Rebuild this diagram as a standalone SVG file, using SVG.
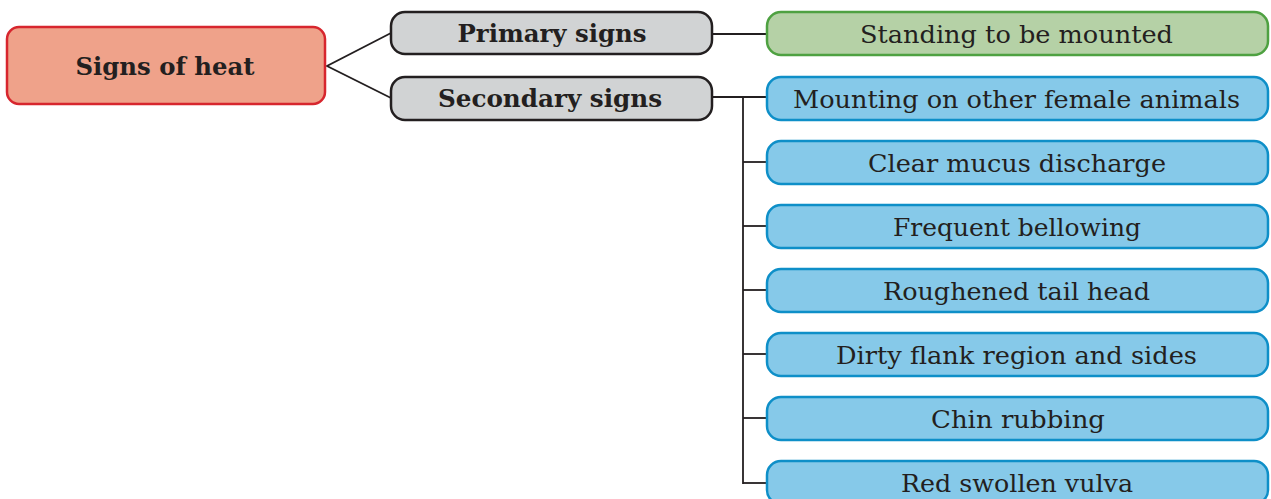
<svg xmlns="http://www.w3.org/2000/svg" width="1271" height="499" viewBox="0 0 1271 499">
<style>
.root{fill:#EFA28A;stroke:#D7262E;stroke-width:2.5}
.cat{fill:#D1D3D4;stroke:#231F20;stroke-width:2.5}
.green{fill:#B5D1A6;stroke:#4EA141;stroke-width:2.5}
.blue{fill:#86C9E9;stroke:#0E8FC8;stroke-width:2.5}
.b{font-family:"DejaVu Serif","Liberation Serif",serif;font-weight:bold;font-size:24px;fill:#231F20;text-anchor:middle}
.t{font-family:"DejaVu Serif","Liberation Serif",serif;font-size:25px;fill:#231F20;text-anchor:middle}
.c{fill:none;stroke:#231F20;stroke-width:1.8}
</style>
<rect width="1271" height="499" fill="#ffffff"/>
<g id="connectors">
<polyline class="c" points="391,33 327,66 391,98"/>
<line class="c" x1="712" y1="34" x2="767" y2="34"/>
<line class="c" x1="712" y1="97" x2="767" y2="97"/>
<line class="c" x1="743" y1="97" x2="743" y2="484"/>
<line class="c" x1="743" y1="162" x2="767" y2="162"/>
<line class="c" x1="743" y1="226" x2="767" y2="226"/>
<line class="c" x1="743" y1="290" x2="767" y2="290"/>
<line class="c" x1="743" y1="354" x2="767" y2="354"/>
<line class="c" x1="743" y1="418" x2="767" y2="418"/>
<line class="c" x1="743" y1="483" x2="767" y2="483"/>
</g>
<g id="signs-of-heat">
<rect class="root" x="7" y="27" width="318" height="77" rx="12"/>
<text class="b" x="165" y="75" textLength="179" lengthAdjust="spacingAndGlyphs">Signs of heat</text>
</g>
<g id="primary-signs">
<rect class="cat" x="391" y="12" width="321" height="42" rx="14"/>
<text class="b" x="552" y="42" textLength="189" lengthAdjust="spacingAndGlyphs">Primary signs</text>
</g>
<g id="secondary-signs">
<rect class="cat" x="391" y="77" width="321" height="43" rx="14"/>
<text class="b" x="550" y="107" textLength="224" lengthAdjust="spacingAndGlyphs">Secondary signs</text>
</g>
<g id="standing">
<rect class="green" x="767" y="12" width="501" height="43" rx="14"/>
<text class="t" x="1016.5" y="43" textLength="313" lengthAdjust="spacingAndGlyphs">Standing to be mounted</text>
</g>
<g id="mounting">
<rect class="blue" x="767" y="77" width="501" height="43" rx="14"/>
<text class="t" x="1016.5" y="108" textLength="447" lengthAdjust="spacingAndGlyphs">Mounting on other female animals</text>
</g>
<g id="mucus">
<rect class="blue" x="767" y="141" width="501" height="43" rx="14"/>
<text class="t" x="1017" y="172" textLength="298" lengthAdjust="spacingAndGlyphs">Clear mucus discharge</text>
</g>
<g id="bellowing">
<rect class="blue" x="767" y="205" width="501" height="43" rx="14"/>
<text class="t" x="1017" y="236" textLength="248" lengthAdjust="spacingAndGlyphs">Frequent bellowing</text>
</g>
<g id="tail-head">
<rect class="blue" x="767" y="269" width="501" height="43" rx="14"/>
<text class="t" x="1016.5" y="300" textLength="267" lengthAdjust="spacingAndGlyphs">Roughened tail head</text>
</g>
<g id="flank">
<rect class="blue" x="767" y="333" width="501" height="43" rx="14"/>
<text class="t" x="1016.5" y="364" textLength="361" lengthAdjust="spacingAndGlyphs">Dirty flank region and sides</text>
</g>
<g id="chin">
<rect class="blue" x="767" y="397" width="501" height="43" rx="14"/>
<text class="t" x="1018" y="428" textLength="174" lengthAdjust="spacingAndGlyphs">Chin rubbing</text>
</g>
<g id="vulva">
<rect class="blue" x="767" y="461" width="501" height="43" rx="14"/>
<text class="t" x="1017" y="492" textLength="232" lengthAdjust="spacingAndGlyphs">Red swollen vulva</text>
</g>
</svg>
